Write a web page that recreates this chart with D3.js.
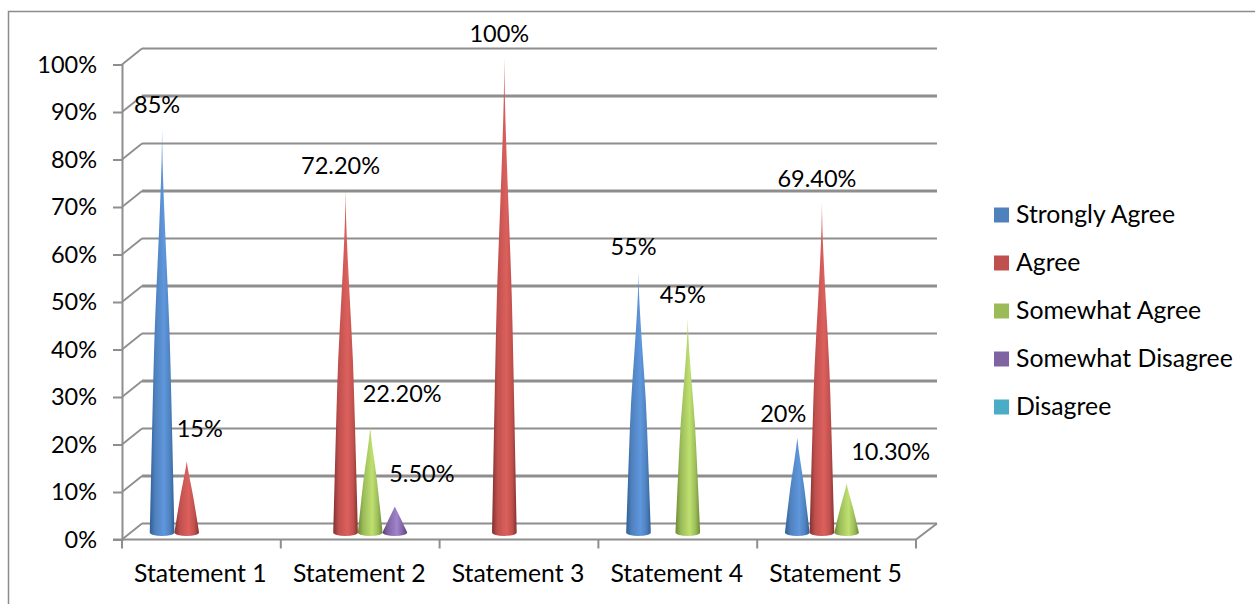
<!DOCTYPE html>
<html>
<head>
<meta charset="utf-8">
<script src="https://d3js.org/d3.v7.min.js"></script>
<style>
    html, body { margin: 0; padding: 0; background: #fff; overflow: hidden; }
    text { font-family: Lato, "Open Sans", sans-serif; font-size: 23.5px; fill: #000; }
    .xlabel, .legend-item text { font-size: 24.8px; }
    .axis path, .axis line, .wall { stroke: #8e8e8e; fill: none; }
</style>
</head>
<body>
<div id="chart"></div>
<script>

var categories = ["Statement 1", "Statement 2", "Statement 3", "Statement 4", "Statement 5"];
var seriesNames = ["Strongly Agree", "Agree", "Somewhat Agree", "Somewhat Disagree", "Disagree"];

// values per statement, null = nothing drawn
var stronglyAgree = [85, null, null, 55, 20];
var agree = [15, 72.2, 100, null, 69.4];
var somewhatAgree = [null, 22.2, null, 45, 10.3];
var somewhatDisagree = [null, 5.5, null, null, null];
var disagree = [null, null, null, null, null];

var seriesValues = [stronglyAgree, agree, somewhatAgree, somewhatDisagree, disagree];
var valueLabels = {
    "85": "85%", "15": "15%", "72.2": "72.20%", "100": "100%", "69.4": "69.40%",
    "22.2": "22.20%", "55": "55%", "45": "45%", "20": "20%", "10.3": "10.30%", "5.5": "5.50%"
};
var yTicks = [0, 10, 20, 30, 40, 50, 60, 70, 80, 90, 100];

var colors = ["#4f81bd", "#c0504d", "#9bbb59", "#8064a2", "#4bacc6"];
var edgeColors = ["#2f5f98", "#823130", "#6c8a35", "#5a4279", "#2f7f95"];
var lightColors = ["#5f97dd", "#dc605d", "#bfe070", "#a184cc", "#62c8e4"];

var width = 1255, height = 604;

// 3D look: the back wall is shifted up and right from the front axes
var depthX = 20, depthY = 16;
var coneShiftX = 10, coneShiftY = 7;

var svg = d3.select("#chart").append("svg")
    .attr("width", width)
    .attr("height", height);

// outer frame, runs off the right and bottom of the picture
svg.append("path")
    .attr("d", "M8.5,604V11.5H1255")
    .attr("fill", "none")
    .attr("stroke", "#8c8c8c")
    .attr("stroke-width", 1.5);

var x = d3.scaleBand().domain(categories).range([122, 916]);
var y = d3.scaleLinear().domain([0, 100]).range([539.5, 64.5]);
var inner = d3.scaleBand().domain(seriesNames).range([0, x.bandwidth()]).paddingInner(0).paddingOuter(0.72);

// gradients, dark at the edges of each cone and light in the middle
var defs = svg.append("defs");
seriesNames.forEach(function(name, i) {
    var grad = defs.append("linearGradient").attr("id", "cone" + i);
    grad.append("stop").attr("offset", "0%").attr("stop-color", edgeColors[i]);
    grad.append("stop").attr("offset", "22%").attr("stop-color", colors[i]);
    grad.append("stop").attr("offset", "58%").attr("stop-color", lightColors[i]);
    grad.append("stop").attr("offset", "82%").attr("stop-color", colors[i]);
    grad.append("stop").attr("offset", "100%").attr("stop-color", edgeColors[i]);
});

// back wall gridlines and the slanted side lines
var wall = svg.append("g");
yTicks.forEach(function(t) {
    wall.append("line")
        .attr("class", "wall")
        .attr("x1", x.range()[0] + depthX)
        .attr("x2", x.range()[1] + depthX + 1)
        .attr("y1", y(t) - depthY)
        .attr("y2", y(t) - depthY)
        .attr("stroke-width", t % 20 === 0 ? 2.2 : 3);
    wall.append("line")
        .attr("class", "wall")
        .attr("x1", x.range()[0])
        .attr("x2", x.range()[0] + depthX)
        .attr("y1", y(t))
        .attr("y2", y(t) - depthY)
        .attr("stroke-width", 1.8);
});
wall.append("line")
    .attr("class", "wall")
    .attr("x1", x.range()[1])
    .attr("x2", x.range()[1] + depthX + 1)
    .attr("y1", y(0))
    .attr("y2", y(0) - depthY)
    .attr("stroke-width", 2);

// axes
var yAxis = d3.axisLeft(y)
    .tickValues(yTicks)
    .tickSize(9)
    .tickPadding(16)
    .tickFormat(function(d) { return d + "%"; });

var yG = svg.append("g")
    .attr("class", "axis")
    .attr("transform", "translate(" + x.range()[0] + ",0)")
    .call(yAxis);
yG.selectAll("path, line").attr("stroke-width", 2);
yG.selectAll("text").attr("fill", "#000").attr("font-family", null).attr("font-size", null);

var xEdges = categories.map(function(c) { return x(c); }).concat([x.range()[1]]);
var xG = svg.append("g").attr("class", "axis");
xG.append("line")
    .attr("x1", x.range()[0] - 9).attr("x2", x.range()[1])
    .attr("y1", y(0)).attr("y2", y(0))
    .attr("stroke-width", 2);
xG.selectAll(".xtick")
    .data(xEdges)
    .enter().append("line")
    .attr("class", "xtick")
    .attr("x1", function(d) { return d; }).attr("x2", function(d) { return d; })
    .attr("y1", y(0)).attr("y2", y(0) + 9)
    .attr("stroke-width", 2);
svg.selectAll(".xlabel")
    .data(categories)
    .enter().append("text")
    .attr("class", "xlabel")
    .attr("x", function(d) { return x(d) + x.bandwidth() / 2 - 1; })
    .attr("y", 582)
    .attr("text-anchor", "middle")
    .text(function(d) { return d; });

// how wide a cone is at a given fraction of the way from tip to base
var coneProfile = [[0, 0], [0.08, 0.04], [0.18, 0.15], [0.31, 0.33], [0.5, 0.6], [0.67, 0.75], [0.88, 0.91], [1, 1]];

function conePath(cx, value, halfWidth) {
    var tip = y(value) - coneShiftY;
    var base = y(0) - coneShiftY;
    var h = base - tip;
    // short cones stay straight, the tall ones get the slight bulge
    var bulge = Math.min(1, h / 250);
    var pts = coneProfile.map(function(p) {
        return [p[0] * h + tip, (p[0] + (p[1] - p[0]) * bulge) * halfWidth];
    });
    var left = pts.map(function(p) { return [cx - p[1], p[0]]; });
    var right = pts.slice().reverse().map(function(p) { return [cx + p[1], p[0]]; });
    var line = d3.line().curve(d3.curveMonotoneY);
    return line(left)
        + "A" + halfWidth + "," + 3.5 + " 0 0 0 " + (cx + halfWidth) + "," + base
        + line(right).replace("M", "L") + "Z";
}

// label nudges where the label is not just above the cone
var labelOffsets = { "15": [13, -32], "22.2": [32, -33], "5.5": [27, -32], "20": [-14, -24], "10.3": [44, -32] };

var cones = [];
seriesValues.forEach(function(values, s) {
    values.forEach(function(v, c) {
        if (v !== null) cones.push({ series: s, category: categories[c], value: v });
    });
});

function coneX(d) {
    return x(d.category) + inner(seriesNames[d.series]) + inner.bandwidth() / 2 + coneShiftX;
}

svg.selectAll(".cone")
    .data(cones)
    .enter().append("path")
    .attr("class", "cone")
    .attr("d", function(d) { return conePath(coneX(d), d.value, inner.bandwidth() / 2); })
    .attr("fill", function(d) { return "url(#cone" + d.series + ")"; });

svg.selectAll(".value-label")
    .data(cones)
    .enter().append("text")
    .attr("class", "value-label")
    .attr("x", function(d) {
        var off = labelOffsets[d.value];
        return coneX(d) + (off ? off[0] : -5);
    })
    .attr("y", function(d) {
        var off = labelOffsets[d.value];
        return y(d.value) - coneShiftY + (off ? off[1] : -24) + 8;
    })
    .attr("text-anchor", "middle")
    .text(function(d) { return valueLabels[d.value]; });

// legend
var legend = d3.scalePoint().domain(seriesNames).range([215, 407]);
var legendItems = svg.selectAll(".legend-item")
    .data(seriesNames)
    .enter().append("g")
    .attr("class", "legend-item")
    .attr("transform", function(d) { return "translate(994," + legend(d) + ")"; });
legendItems.append("rect")
    .attr("y", -7.5)
    .attr("width", 15)
    .attr("height", 15)
    .attr("fill", function(d, i) { return colors[i]; });
legendItems.append("text")
    .attr("x", 22)
    .attr("y", 8)
    .text(function(d) { return d; });

</script>
</body>
</html>
